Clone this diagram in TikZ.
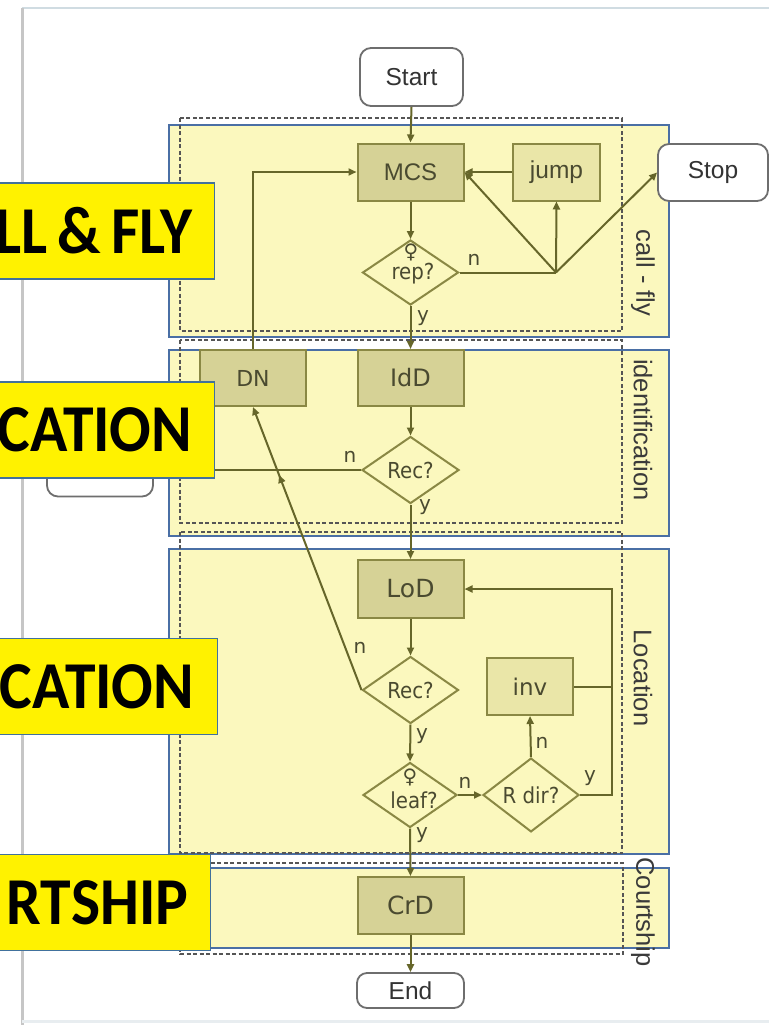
\documentclass[tikz,border=0pt]{standalone}
\usepackage{fontspec}
\setmainfont{Liberation Sans}
\newfontfamily\dvfont{DejaVu Sans}
\newfontfamily\dvcond[FakeStretch=0.9]{DejaVu Sans}
\newfontfamily\calibfont[FakeStretch=0.92]{Carlito}
\usetikzlibrary{arrows.meta,shapes.geometric,decorations.markings}
\definecolor{flowline}{HTML}{66662A}
\definecolor{boxline}{HTML}{8A8844}
\definecolor{boxfill}{HTML}{D6D296}
\definecolor{lightfill}{HTML}{EAE6A8}
\definecolor{panelfill}{HTML}{FBF8BE}
\definecolor{panelblue}{HTML}{4A6FA5}
\definecolor{dashgray}{HTML}{555555}
\definecolor{boxtext}{HTML}{4A4A30}
\definecolor{termline}{HTML}{6E6E6E}
\definecolor{sidetext}{HTML}{3A3A3A}
\definecolor{labelborder}{HTML}{41719C}
\definecolor{topframe}{HTML}{D0DCE2}
\definecolor{leftframe}{HTML}{C6C6C6}
\begin{document}
\begin{tikzpicture}[x=1pt,y=-1pt,
  panel/.style={draw=panelblue, line width=1.8pt, fill=panelfill},
  dashrect/.style={draw=dashgray, line width=1.5pt, dash pattern=on 4pt off 2.5pt},
  flowbox/.style={rectangle, draw=boxline, line width=2pt, fill=boxfill, minimum width=106pt, minimum height=57pt, inner sep=0pt, text=boxtext, font=\dvfont\fontsize{24}{24}\selectfont},
  lightbox/.style={flowbox, fill=lightfill},
  decision/.style={diamond, draw=boxline, line width=2pt, fill=panelfill, inner sep=0pt, text=boxtext, align=center, font=\dvcond\fontsize{22}{19}\selectfont},
  dtext/.style={inner sep=0pt, text=boxtext, font=\dvcond\fontsize{22}{22}\selectfont},
  female/.style={inner sep=0pt, text=boxtext, font=\dvfont\fontsize{20}{20}\selectfont},
  term/.style={rectangle, rounded corners=11pt, draw=termline, line width=1.8pt, fill=white, inner sep=0pt, text=black!80, font=\fontsize{24.5}{24.5}\selectfont},
  conn/.style={draw=flowline, line width=2pt, -{Triangle[length=8pt,width=7pt]}},
  plainconn/.style={draw=flowline, line width=2pt},
  yn/.style={text=boxtext, font=\dvfont\fontsize{20}{20}\selectfont, inner sep=0pt},
  side/.style={rotate=-90, text=sidetext, font=\fontsize{25.5}{25.5}\selectfont, inner sep=0pt},
  ylab/.style={rectangle, draw=labelborder, line width=1.5pt, fill=yellow, anchor=east, inner ysep=0pt, inner xsep=22pt, minimum height=96pt, text width=300pt, align=right, font=\calibfont\bfseries\fontsize{67}{67}\selectfont}
]
\useasboundingbox (0,0) rectangle (769,1025);
\fill[white] (0,0) rectangle (769,1025);
% outer frame of the screenshot
\draw[topframe, line width=2.5pt] (22,8) -- (769,8);
\draw[leftframe, line width=3pt] (22,8) -- (22,1025);
\draw[topframe!50, line width=3pt] (22,1021) -- (769,1021);

% panels
\draw[panel] (169,125) rectangle (669,337);
\draw[panel] (169,350) rectangle (669,536);
\draw[panel] (169,549) rectangle (669,854);
\draw[panel] (169,868) rectangle (669,948);

% dashed regions
\draw[dashrect] (180,118) rectangle (622,331);
\draw[dashrect] (180,340) rectangle (622,523);
\draw[dashrect] (180,532) rectangle (622,853);
\draw[dashrect] (180,863) rectangle (623,954);

% hidden terminal behind the identification label
\node[term, minimum width=106pt, minimum height=57pt] (hidden) at (100,468) {};

% nodes
\node[term, minimum width=103pt, minimum height=58pt] (start) at (411.5,77) {Start};
\node[term, minimum width=110pt, minimum height=57pt] (stop) at (713,172.5) {Stop};
\node[term, minimum width=107pt, minimum height=35pt, rounded corners=10pt] (end) at (410.5,990.5) {End};

\node[flowbox, font=\fontsize{24}{24}\selectfont] (mcs) at (410.5,172) {MCS};
\node[lightbox, minimum width=87pt, font=\fontsize{24.5}{24.5}\selectfont] (jump) at (556.5,172) {jump};
\node[decision, minimum width=96pt, minimum height=65pt] (rep) at (410.5,272.5) {};
\node[female] (repf) at (411,252) {♀};
\node[dtext, anchor=base] (rept) at (413,279) {rep?};

\node[flowbox, minimum height=56pt, font=\dvfont\fontsize{22}{22}\selectfont] (dn) at (253,378) {DN};
\node[flowbox, minimum height=56pt] (idd) at (410.5,378) {IdD};
\node[decision, minimum width=97pt, minimum height=67pt] (rec1) at (410.5,470) {Rec?};

\node[flowbox, minimum height=58pt, font=\dvfont\fontsize{25}{25}\selectfont] (lod) at (410.5,589) {LoD};
\node[decision, minimum width=96pt, minimum height=67pt] (rec2) at (410.5,690) {Rec?};
\node[lightbox, minimum width=86pt, font=\dvfont\fontsize{23}{23}\selectfont] (inv) at (530,686.5) {inv};
\node[decision, minimum width=94pt, minimum height=65pt] (leaf) at (410,795) {};
\node[female] (leaff) at (410,777) {♀};
\node[dtext, anchor=base] (leaft) at (414,808) {leaf?};
\node[decision, minimum width=96pt, minimum height=64pt] (rdir) at (531,795) {R dir?};

\node[flowbox, font=\dvfont\fontsize{25}{25}\selectfont] (crd) at (410.5,905.5) {CrD};

\coordinate (junc) at (556,272.5);
\coordinate (rx) at (612,795);

% connectors
\draw[conn] (start.south) -- (mcs.north);
\draw[conn] (mcs.south) -- (rep.north);
\draw[conn] (rep.south) -- (idd.north);
\draw[plainconn] (rep.east) -- (junc);
\draw[conn] (junc) -- (jump.south);
\draw[conn] (junc) -- (mcs.east);
\draw[conn] (junc) -- (stop.west);
\draw[conn] (jump.west) -- (mcs.east);
\draw[conn] (dn.north) |- (mcs.west);
\draw[conn] (idd.south) -- (rec1.north);
\draw[conn] (rec1.west) -- (rec1.west -| hidden.east);
\draw[conn] (rec1.south) -- (lod.north);
\draw[conn] (lod.south) -- (rec2.north);
\draw[conn, postaction={decorate}, decoration={markings, mark=at position 0.76 with {\arrow{Triangle[length=8pt,width=7pt]}}}] (rec2.west) -- (dn.south);
\draw[conn] (rec2.south) -- (leaf.north);
\draw[conn] (leaf.east) -- (rdir.west);
\draw[conn] (rdir.north) -- (inv.south);
\draw[conn] (rdir.east) -- (rx) |- (lod.east);
\draw[plainconn] (inv.east) -- (inv.east -| rx);
\draw[conn] (leaf.south) -- (crd.north);
\draw[conn] (crd.south) -- (end.north);

% y / n labels
\node[yn] (l1) at (474,260) {n};
\node[yn] (l2) at (423,318) {y};
\node[yn] (l3) at (350,457) {n};
\node[yn] (l4) at (425,507) {y};
\node[yn] (l5) at (360,648) {n};
\node[yn] (l6) at (422,736) {y};
\node[yn] (l7) at (465,783) {n};
\node[yn] (l8) at (422,835) {y};
\node[yn] (l9) at (542,743) {n};
\node[yn] (l10) at (590,778) {y};

% side labels
\node[side] (s1) at (643,273) {call - fly};
\node[side] (s2) at (643,430) {identification};
\node[side] (s3) at (643,678) {Location};
\node[side] (s4) at (643,912) {Courtship};

% yellow overlay labels
\node[ylab] (y1) at (215,231) {LL\hspace{10pt}\&\hspace{10pt}FLY};
\node[ylab] (y2) at (215,430) {CATION};
\node[ylab, inner xsep=23pt] (y3) at (218,686.5) {CATION};
\node[ylab] (y4) at (211,902.5) {RTSHIP};
\end{tikzpicture}
\end{document}
